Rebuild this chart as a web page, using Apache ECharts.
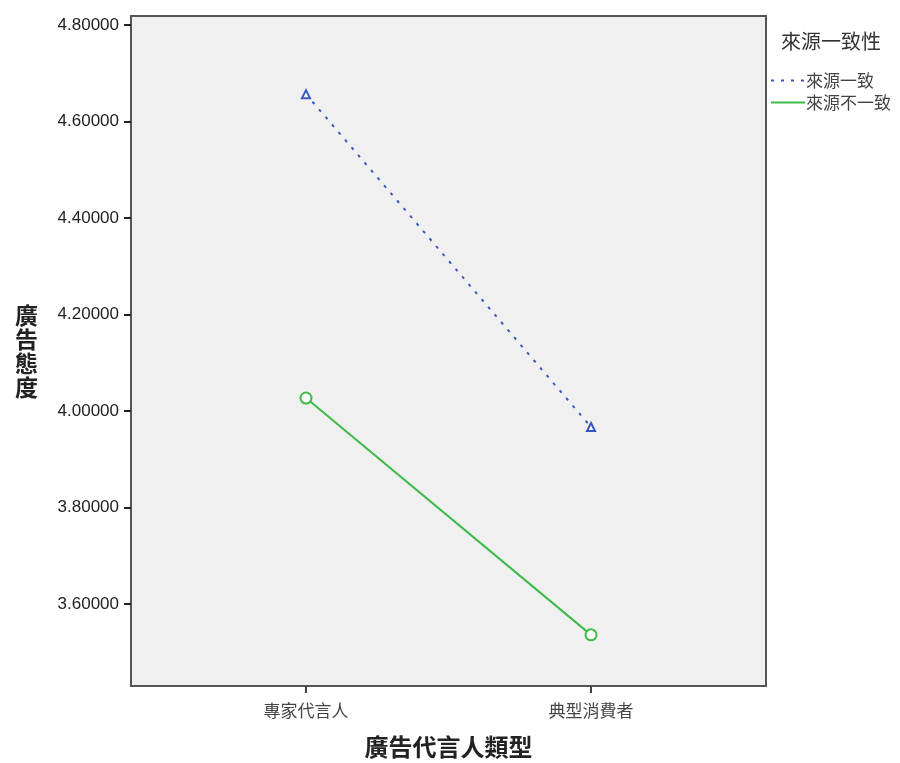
<!DOCTYPE html>
<html><head><meta charset="utf-8">
<script src="https://cdn.jsdelivr.net/npm/echarts@6/dist/echarts.min.js"></script>
<style>html,body{margin:0;padding:0;background:#fff}#c{width:900px;height:763px}</style>
</head><body><div id="c"></div>
<script>
const categories = ['專家代言人', '典型消費者'];
const seriesNames = ['來源一致', '來源不一致'];
const consistentValues = [4.657, 3.967];
const inconsistentValues = [4.027, 3.536];
const yTicks = [3.6, 3.8, 4.0, 4.2, 4.4, 4.6, 4.8];
const xTicks = [0, 1];

const chart = echarts.init(document.getElementById('c'));
const font = '"Liberation Sans", Arial, sans-serif';
const cjk = '"Noto Sans CJK TC", "Noto Sans CJK SC", sans-serif';
chart.setOption({
  animation: false,
  title: {
    text: '來源一致性', left: 781, top: 31, padding: [0, 0, 0, 0],
    textStyle: { fontFamily: cjk, fontSize: 20, fontWeight: 'normal', color: '#333' }
  },
  legend: {
    orient: 'vertical', left: 770, top: 72, itemGap: 5, padding: [0, 0, 0, 0],
    itemWidth: 34, itemHeight: 10,
    itemStyle: { opacity: 0 },
    textStyle: { fontFamily: cjk, fontSize: 17, color: '#444', padding: [0, 0, 0, -4] },
    data: seriesNames
  },
  grid: {
    left: 131, top: 16, right: 134, bottom: 77, show: true,
    outerBoundsMode: 'none', containLabel: false,
    backgroundColor: '#f0f0f0', borderColor: '#555', borderWidth: 2
  },
  xAxis: {
    type: 'value', min: -0.614, max: 1.614,
    name: '廣告代言人類型', nameLocation: 'middle', nameGap: 49,
    nameTextStyle: { fontFamily: cjk, fontSize: 24, fontWeight: 'bold', color: '#222' },
    axisLine: { show: true, onZero: false, lineStyle: { color: '#555', width: 2 } },
    axisTick: { show: true, customValues: xTicks, length: 7, lineStyle: { color: '#444', width: 2 } },
    axisLabel: { customValues: xTicks, formatter: v => categories[Math.round(v)], margin: 16,
      fontFamily: cjk, fontSize: 17, color: '#444' },
    splitLine: { show: false }
  },
  yAxis: {
    type: 'value', min: 3.43, max: 4.819,
    name: '廣告態度'.split('').join('\n'), nameLocation: 'middle', nameGap: 93, nameRotate: 0,
    nameTextStyle: { fontFamily: cjk, fontSize: 23, fontWeight: 'bold', color: '#222', lineHeight: 24 },
    axisLine: { show: true, onZero: false, lineStyle: { color: '#555', width: 2 } },
    axisTick: { show: true, customValues: yTicks, length: 7, lineStyle: { color: '#222', width: 2 } },
    axisLabel: { customValues: yTicks, formatter: v => v.toFixed(5), margin: 12,
      fontFamily: font, fontSize: 17, color: '#222' },
    splitLine: { show: false }
  },
  series: [
    {
      name: seriesNames[0], type: 'line',
      data: xTicks.map((x, i) => [x, consistentValues[i]]),
      symbol: 'emptyTriangle', symbolSize: 8, showAllSymbol: true,
      itemStyle: { color: '#3a57c0', borderColor: '#3a57c0', borderWidth: 1.5 },
      lineStyle: { color: '#3a57c0', width: 2, type: [3, 7] }
    },
    {
      name: seriesNames[1], type: 'line',
      data: xTicks.map((x, i) => [x, inconsistentValues[i]]),
      symbol: 'emptyCircle', symbolSize: 11,
      itemStyle: { color: '#3dbb4a', borderColor: '#3dbb4a', borderWidth: 2 },
      lineStyle: { color: '#3dbb4a', width: 2 }
    }
  ]
});
</script></body></html>
